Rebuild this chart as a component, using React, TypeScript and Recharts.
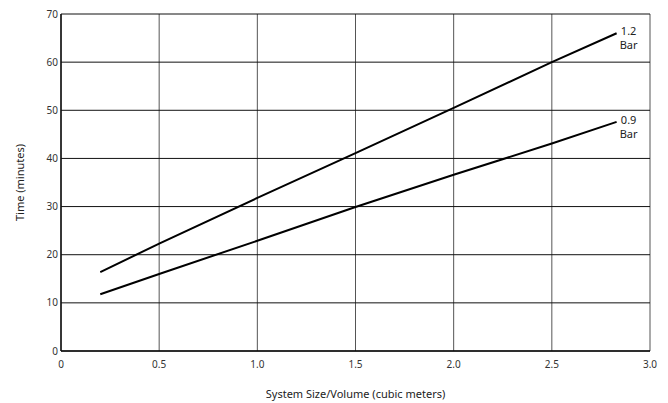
import {
  LineChart,
  Line,
  XAxis,
  YAxis,
  CartesianGrid,
} from "recharts";

// System size (cubic meters) at which the curves are read
const sizes = [0.2, 0.5, 1.0, 1.5, 2.0, 2.5, 2.83];
// Time (minutes) for each pressure
const bar12 = [16.4, 22.3, 31.8, 41.1, 50.5, 60.0, 66.0];
const bar09 = [11.8, 16.0, 22.9, 29.9, 36.6, 43.1, 47.6];

const xTicks = [0, 0.5, 1.0, 1.5, 2.0, 2.5, 3.0];
const yTicks = [0, 10, 20, 30, 40, 50, 60, 70];

const data = sizes.map((s, i) => ({ size: s, bar12: bar12[i], bar09: bar09[i] }));

const FONT = "'Noto Sans', 'Open Sans', sans-serif";

// Draws the "x.x / Bar" label at the last point of a line only
function endLabel(name: string) {
  return (props: any) => {
    const { x, y, index } = props;
    if (index !== data.length - 1) return null;
    return (
      <text x={x + 12} y={y} textAnchor="middle" fontFamily={FONT} fontSize={11} fill="#222">
        <tspan x={x + 12} dy={2}>{name}</tspan>
        <tspan x={x + 12} dy={14}>Bar</tspan>
      </text>
    );
  };
}

export default function App() {
  return (
    <div style={{ position: "absolute", left: 0, top: 0, background: "#fff" }}>
      <LineChart
        width={668}
        height={403}
        data={data}
        margin={{ top: 14, right: 18, bottom: 22, left: 0 }}
      >
        <CartesianGrid horizontal={false} stroke="#555" strokeWidth={1} />
        <CartesianGrid vertical={false} stroke="#111" strokeWidth={1} />
        <XAxis
          type="number"
          dataKey="size"
          domain={[0, 3]}
          ticks={xTicks}
          tickFormatter={(v: number) => (v === 0 ? "0" : v.toFixed(1))}
          tick={{ fontSize: 10, fill: "#333", fontFamily: FONT }}
          tickLine={false}
          tickSize={4}
          tickMargin={6}
          axisLine={{ stroke: "#111", strokeWidth: 1.5 }}
          height={30}
          label={{
            value: "System Size/Volume (cubic meters)",
            position: "bottom",
            offset: 9,
            style: { fontSize: 11, fill: "#222", fontFamily: FONT },
          }}
        />
        <YAxis
          type="number"
          domain={[0, 70]}
          ticks={yTicks}
          tick={{ fontSize: 10, fill: "#333", fontFamily: FONT }}
          tickLine={false}
          tickSize={3}
          tickMargin={0}
          axisLine={{ stroke: "#111", strokeWidth: 1.5 }}
          width={61}
          label={{
            value: "Time (minutes)",
            angle: -90,
            position: "center",
            dx: -10,
            style: { fontSize: 11, fill: "#222", fontFamily: FONT, textAnchor: "middle" },
          }}
        />
        <Line
          type="linear"
          dataKey="bar12"
          stroke="#000"
          strokeWidth={2}
          dot={false}
          isAnimationActive={false}
          label={endLabel("1.2")}
        />
        <Line
          type="linear"
          dataKey="bar09"
          stroke="#000"
          strokeWidth={2}
          dot={false}
          isAnimationActive={false}
          label={endLabel("0.9")}
        />
      </LineChart>
    </div>
  );
}
